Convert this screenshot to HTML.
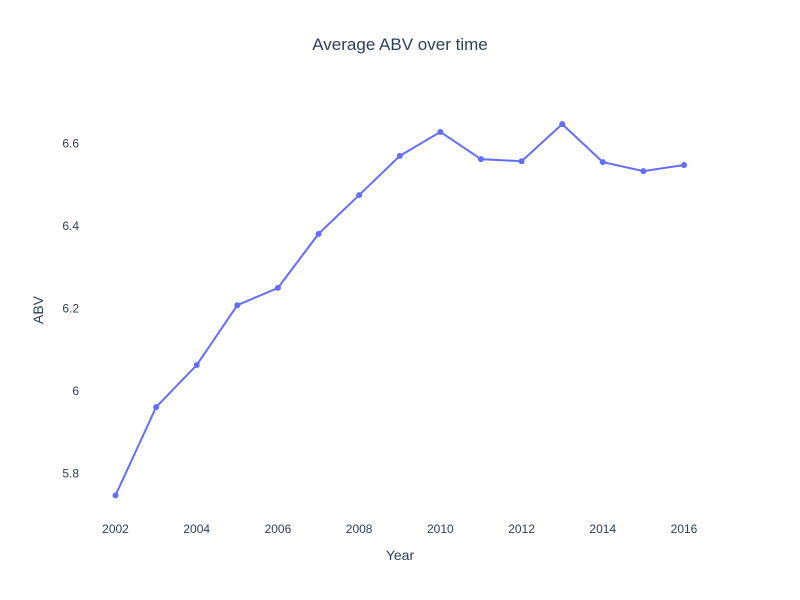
<!DOCTYPE html>
<html><head><meta charset="utf-8"><style>
body{margin:0;background:#fff;}
svg{display:block;font-family:"Liberation Sans",Arial,sans-serif;}
</style></head><body>
<svg id="chart" width="800" height="600">
<text x="400" y="50" text-anchor="middle" font-size="17" fill="#2a3f5f">Average ABV over time</text>
<text x="400" y="560" text-anchor="middle" font-size="14" fill="#2a3f5f">Year</text>
<text transform="translate(43,310) rotate(-90)" text-anchor="middle" font-size="14" fill="#2a3f5f">ABV</text>
<g id="xticks"></g>
<g id="yticks"></g>
<g id="series"></g>
</svg>
<script>
const years=[2002,2003,2004,2005,2006,2007,2008,2009,2010,2011,2012,2013,2014,2015,2016];
const abv=[5.747,5.961,6.063,6.208,6.250,6.381,6.475,6.570,6.628,6.562,6.557,6.647,6.555,6.533,6.548];
const xTicks=[2002,2004,2006,2008,2010,2012,2014,2016];
const yTicks=[5.8,6,6.2,6.4,6.6];
const yLabels=["5.8","6","6.2","6.4","6.6"];
function xs(v){return 115.5+(v-2002)*(684-115.5)/14;}
function ys(v){return 391-(v-6)*412.5;}
const NS="http://www.w3.org/2000/svg";
const xg=document.getElementById('xticks'),yg=document.getElementById('yticks'),sg=document.getElementById('series');
xTicks.forEach(t=>{const e=document.createElementNS(NS,'text');


e.setAttribute('x',xs(t));e.setAttribute('y',533);e.setAttribute('text-anchor','middle');e.setAttribute('font-size','12');e.setAttribute('fill','#2a3f5f');e.textContent=t;xg.appendChild(e);});
yTicks.forEach((t,i)=>{const e=document.createElementNS(NS,'text');


e.setAttribute('x',79);e.setAttribute('y',ys(t)+4);e.setAttribute('text-anchor','end');e.setAttribute('font-size','12');e.setAttribute('fill','#2a3f5f');e.textContent=yLabels[i];yg.appendChild(e);});
const pl=document.createElementNS(NS,'polyline');


pl.setAttribute('points',years.map((y,i)=>xs(y)+','+ys(abv[i])).join(' '));
pl.setAttribute('fill','none');pl.setAttribute('stroke','#636efa');pl.setAttribute('stroke-width','2');sg.appendChild(pl);
years.forEach((y,i)=>{const c=document.createElementNS(NS,'circle');


c.setAttribute('cx',xs(y));c.setAttribute('cy',ys(abv[i]));c.setAttribute('r',3);c.setAttribute('fill','#636efa');sg.appendChild(c);});
</script>
</body></html>
